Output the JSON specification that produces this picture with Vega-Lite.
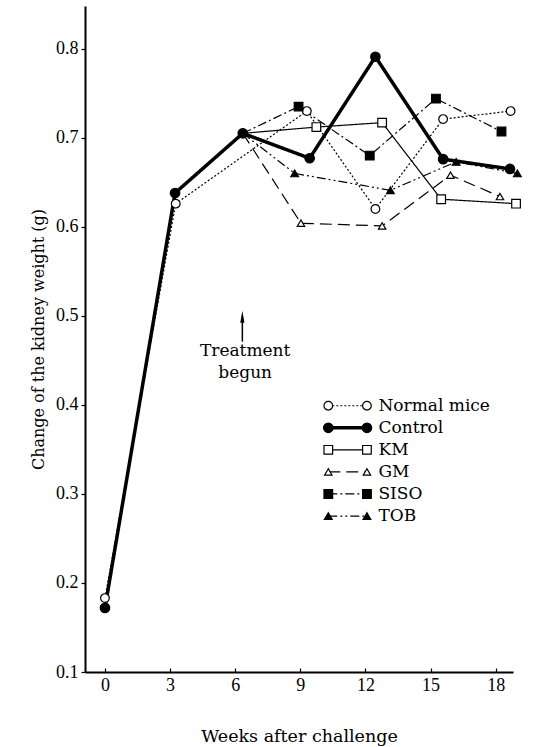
{
  "$schema": "https://vega.github.io/schema/vega-lite/v6.json",
  "width": 428,
  "height": 666,
  "autosize": {"type": "none"},
  "padding": {"left": 85, "top": 6, "right": 25, "bottom": 75},
  "background": "white",
  "config": {"view": {"stroke": null}, "font": "DejaVu Serif"},
  "datasets": {
    "series": [
      {"series": "Normal mice", "week": 0, "weight": 0.183},
      {"series": "Normal mice", "week": 3.26, "weight": 0.626},
      {"series": "Normal mice", "week": 9.3, "weight": 0.730},
      {"series": "Normal mice", "week": 12.46, "weight": 0.620},
      {"series": "Normal mice", "week": 15.58, "weight": 0.721},
      {"series": "Normal mice", "week": 18.69, "weight": 0.730},
      {"series": "Control", "week": 0, "weight": 0.172},
      {"series": "Control", "week": 3.23, "weight": 0.638},
      {"series": "Control", "week": 6.35, "weight": 0.705},
      {"series": "Control", "week": 9.43, "weight": 0.677},
      {"series": "Control", "week": 12.46, "weight": 0.791},
      {"series": "Control", "week": 15.58, "weight": 0.676},
      {"series": "Control", "week": 18.66, "weight": 0.665},
      {"series": "KM", "week": 6.35, "weight": 0.705},
      {"series": "KM", "week": 9.74, "weight": 0.712},
      {"series": "KM", "week": 12.77, "weight": 0.717},
      {"series": "KM", "week": 15.49, "weight": 0.631},
      {"series": "KM", "week": 18.94, "weight": 0.626},
      {"series": "GM", "week": 6.35, "weight": 0.705},
      {"series": "GM", "week": 9.03, "weight": 0.604},
      {"series": "GM", "week": 12.77, "weight": 0.601},
      {"series": "GM", "week": 15.92, "weight": 0.658},
      {"series": "GM", "week": 18.2, "weight": 0.634},
      {"series": "SISO", "week": 6.35, "weight": 0.705},
      {"series": "SISO", "week": 8.92, "weight": 0.735},
      {"series": "SISO", "week": 12.2, "weight": 0.680},
      {"series": "SISO", "week": 15.25, "weight": 0.744},
      {"series": "SISO", "week": 18.27, "weight": 0.707},
      {"series": "TOB", "week": 6.35, "weight": 0.705},
      {"series": "TOB", "week": 8.74, "weight": 0.660},
      {"series": "TOB", "week": 13.15, "weight": 0.641},
      {"series": "TOB", "week": 16.18, "weight": 0.673},
      {"series": "TOB", "week": 19.0, "weight": 0.660}
    ],
    "legend": [
      {"series": "Normal mice", "order": 1},
      {"series": "Control", "order": 2},
      {"series": "KM", "order": 3},
      {"series": "GM", "order": 4},
      {"series": "SISO", "order": 5},
      {"series": "TOB", "order": 6}
    ]
  },
  "layer": [
    {
      "layer": [
        {
          "data": {"name": "series"},
          "layer": [
            {
              "mark": {"type": "line", "color": "black"},
              "encoding": {
                "x": {
                  "field": "week", "type": "quantitative",
                  "scale": {"domain": [-0.92, 18.8], "nice": false, "zero": false},
                  "axis": {
                    "values": [0, 3, 6, 9, 12, 15, 18],
                    "title": "Weeks  after  challenge",
                    "titleFont": "DejaVu Serif", "titleFontSize": 17.5, "titleFontWeight": "normal",
                    "titleColor": "black", "titleY": 64, "titleBaseline": "middle",
                    "labelFont": "Liberation Serif", "labelFontSize": 18, "labelColor": "black",
                    "labelPadding": 8, "tickSize": -4, "tickColor": "black", "tickWidth": 1.2,
                    "grid": false, "domainColor": "black", "domainWidth": 2
                  }
                },
                "y": {
                  "field": "weight", "type": "quantitative",
                  "scale": {"domain": [0.1, 0.848], "nice": false, "zero": false},
                  "axis": {
                    "values": [0.1, 0.2, 0.3, 0.4, 0.5, 0.6, 0.7, 0.8],
                    "format": ".1f",
                    "title": "Change of the kidney weight (g)",
                    "titleFont": "DejaVu Serif", "titleFontSize": 16, "titleFontWeight": "normal",
                    "titleColor": "black", "titleX": -47, "titleY": 333, "titleAngle": -90,
                    "titleBaseline": "middle", "titleAlign": "center",
                    "labelFont": "Liberation Serif", "labelFontSize": 18, "labelColor": "black",
                    "labelPadding": 3, "tickSize": 4, "tickColor": "black", "tickWidth": 1.2,
                    "grid": false, "domainColor": "black", "domainWidth": 2
                  }
                },
                "detail": {"field": "series"},
                "strokeDash": {
                  "field": "series", "type": "nominal", "legend": null,
                  "scale": {
                    "domain": ["Normal mice", "Control", "KM", "GM", "SISO", "TOB"],
                    "range": [[2, 2], [1, 0], [1, 0], [12, 6], [9, 3, 2, 3], [9, 3, 2, 3, 2, 3]]
                  }
                },
                "strokeWidth": {
                  "field": "series", "type": "nominal", "legend": null,
                  "scale": {
                    "type": "ordinal",
                    "domain": ["Normal mice", "Control", "KM", "GM", "SISO", "TOB"],
                    "range": [1.2, 3.5, 1.2, 1.2, 1.2, 1.2]
                  }
                }
              }
            },
            {
              "transform": [{"filter": "datum.series == 'Control' || datum.week != 6.35"}],
              "mark": {"type": "point", "stroke": "black", "strokeWidth": 1.2, "opacity": 1},
              "encoding": {
                "x": {"field": "week", "type": "quantitative"},
                "y": {"field": "weight", "type": "quantitative"},
                "shape": {
                  "field": "series", "type": "nominal", "legend": null,
                  "scale": {
                    "domain": ["Normal mice", "Control", "KM", "GM", "SISO", "TOB"],
                    "range": ["circle", "circle", "square", "triangle-up", "square", "triangle-up"]
                  }
                },
                "fill": {
                  "field": "series", "type": "nominal", "legend": null,
                  "scale": {
                    "domain": ["Normal mice", "Control", "KM", "GM", "SISO", "TOB"],
                    "range": ["white", "black", "white", "white", "black", "black"]
                  }
                },
                "size": {
                  "field": "series", "type": "nominal", "legend": null,
                  "scale": {
                    "type": "ordinal",
                    "domain": ["Normal mice", "Control", "KM", "GM", "SISO", "TOB"],
                    "range": [75, 90, 75, 55, 75, 60]
                  }
                }
              }
            }
          ]
        },
        {
          "data": {"values": [{}]},
          "layer": [
            {
              "mark": {"type": "rule", "color": "black", "strokeWidth": 1.5},
              "encoding": {
                "x": {"datum": 6.33, "type": "quantitative"},
                "y": {"datum": 0.471, "type": "quantitative"},
                "y2": {"datum": 0.500}
              }
            },
            {
              "mark": {"type": "point", "shape": "M0,-1L0.35,1L-0.35,1Z", "filled": true, "color": "black", "size": 144, "opacity": 1},
              "encoding": {
                "x": {"datum": 6.33, "type": "quantitative"},
                "y": {"datum": 0.499, "type": "quantitative"}
              }
            },
            {
              "mark": {"type": "text", "font": "DejaVu Serif", "fontSize": 17, "color": "black", "align": "center", "baseline": "middle", "lineHeight": 22},
              "encoding": {
                "x": {"datum": 6.46, "type": "quantitative"},
                "y": {"datum": 0.461, "type": "quantitative"},
                "text": {"value": ["Treatment", "begun"]}
              }
            }
          ]
        }
      ]
    },
    {
      "data": {"name": "legend"},
      "encoding": {
        "y": {
          "field": "order", "type": "quantitative", "axis": null,
          "scale": {"domain": [-17.12, 13.07], "reverse": true, "nice": false, "zero": false}
        }
      },
      "layer": [
        {
          "mark": {"type": "rule", "color": "black"},
          "encoding": {
            "x": {"datum": 10.29, "type": "quantitative"},
            "x2": {"datum": 12.07},
            "strokeDash": {
              "field": "series", "type": "nominal", "legend": null,
              "scale": {
                "domain": ["Normal mice", "Control", "KM", "GM", "SISO", "TOB"],
                "range": [[2, 2], [1, 0], [1, 0], [12, 6], [9, 3, 2, 3], [9, 3, 2, 3, 2, 3]]
              }
            },
            "strokeWidth": {
              "field": "series", "type": "nominal", "legend": null,
              "scale": {
                "type": "ordinal",
                "domain": ["Normal mice", "Control", "KM", "GM", "SISO", "TOB"],
                "range": [1.2, 3.5, 1.2, 1.2, 1.2, 1.2]
              }
            }
          }
        },
        {
          "mark": {"type": "point", "stroke": "black", "strokeWidth": 1.2, "opacity": 1},
          "encoding": {
            "x": {"datum": 10.29, "type": "quantitative"},
            "shape": {
              "field": "series", "type": "nominal", "legend": null,
              "scale": {
                "domain": ["Normal mice", "Control", "KM", "GM", "SISO", "TOB"],
                "range": ["circle", "circle", "square", "triangle-up", "square", "triangle-up"]
              }
            },
            "fill": {
              "field": "series", "type": "nominal", "legend": null,
              "scale": {
                "domain": ["Normal mice", "Control", "KM", "GM", "SISO", "TOB"],
                "range": ["white", "black", "white", "white", "black", "black"]
              }
            },
            "size": {
              "field": "series", "type": "nominal", "legend": null,
              "scale": {
                "type": "ordinal",
                "domain": ["Normal mice", "Control", "KM", "GM", "SISO", "TOB"],
                "range": [75, 90, 75, 55, 75, 60]
              }
            }
          }
        },
        {
          "mark": {"type": "point", "stroke": "black", "strokeWidth": 1.2, "opacity": 1},
          "encoding": {
            "x": {"datum": 12.07, "type": "quantitative"},
            "shape": {
              "field": "series", "type": "nominal", "legend": null,
              "scale": {
                "domain": ["Normal mice", "Control", "KM", "GM", "SISO", "TOB"],
                "range": ["circle", "circle", "square", "triangle-up", "square", "triangle-up"]
              }
            },
            "fill": {
              "field": "series", "type": "nominal", "legend": null,
              "scale": {
                "domain": ["Normal mice", "Control", "KM", "GM", "SISO", "TOB"],
                "range": ["white", "black", "white", "white", "black", "black"]
              }
            },
            "size": {
              "field": "series", "type": "nominal", "legend": null,
              "scale": {
                "type": "ordinal",
                "domain": ["Normal mice", "Control", "KM", "GM", "SISO", "TOB"],
                "range": [75, 90, 75, 55, 75, 60]
              }
            }
          }
        },
        {
          "mark": {"type": "text", "font": "DejaVu Serif", "fontSize": 17, "color": "black", "align": "left", "baseline": "middle"},
          "encoding": {
            "x": {"datum": 12.6, "type": "quantitative"},
            "text": {"field": "series", "type": "nominal"}
          }
        }
      ]
    }
  ],
  "resolve": {"scale": {"y": "independent"}}
}
